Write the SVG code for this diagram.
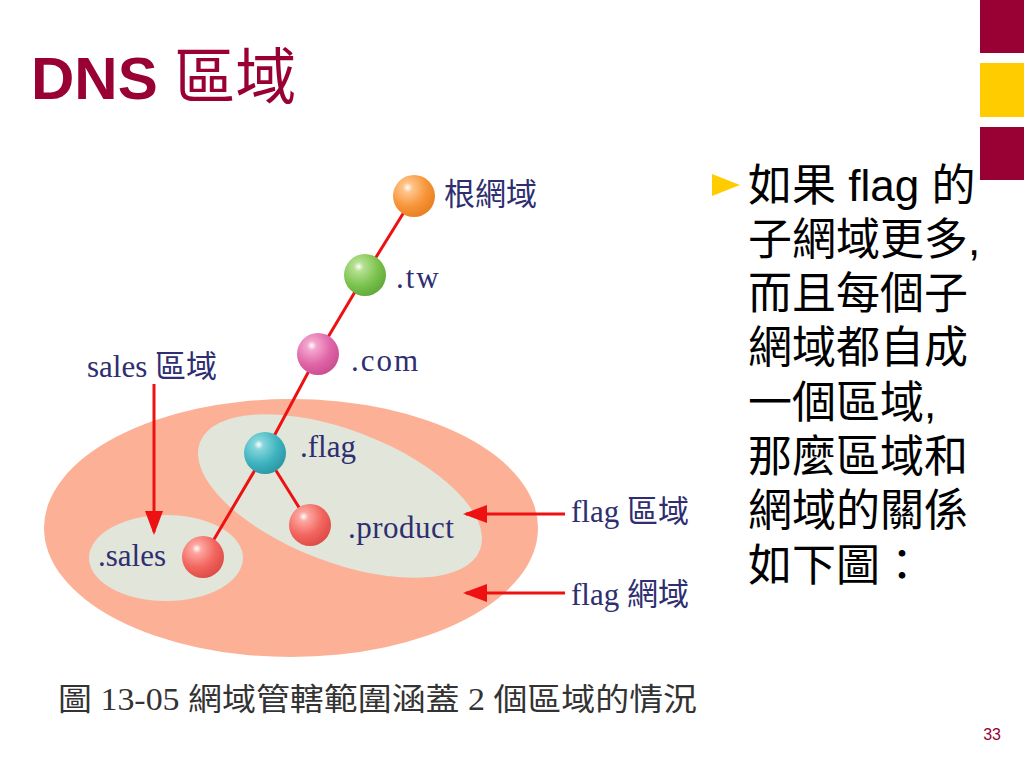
<svg xmlns="http://www.w3.org/2000/svg" width="1024" height="768" viewBox="0 0 1024 768">
<style>
.lbl{font-family:"Liberation Serif","Noto Sans CJK TC",serif;fill:#2e2e70;font-size:31px}
.cap{font-family:"Liberation Serif","Noto Sans CJK TC",serif;fill:#333;font-size:31px}
.body{font-family:"Liberation Sans","Noto Sans CJK TC",sans-serif;fill:#000;font-size:44px}
.edge{stroke:#ee1111;stroke-width:3;fill:none}
.arr{stroke:#ee1111;stroke-width:3;fill:none;marker-end:url(#ah)}
</style>
<defs>
<marker id="ah" markerWidth="8" markerHeight="6" refX="7" refY="3" orient="auto" markerUnits="strokeWidth">
<path d="M0,0 L8,3 L0,6 z" fill="#ee1111"/>
</marker>
<radialGradient id="gO" cx="0.35" cy="0.3" r="0.75"><stop offset="0" stop-color="#fff"/><stop offset="0.15" stop-color="#ffc58a"/><stop offset="0.6" stop-color="#f7953a"/><stop offset="1" stop-color="#e87e20"/></radialGradient>
<radialGradient id="gG" cx="0.35" cy="0.3" r="0.75"><stop offset="0" stop-color="#fff"/><stop offset="0.15" stop-color="#b6e092"/><stop offset="0.6" stop-color="#7cc44e"/><stop offset="1" stop-color="#5fa83a"/></radialGradient>
<radialGradient id="gP" cx="0.35" cy="0.3" r="0.75"><stop offset="0" stop-color="#fff"/><stop offset="0.15" stop-color="#f3a6cf"/><stop offset="0.6" stop-color="#e066a8"/><stop offset="1" stop-color="#c94d90"/></radialGradient>
<radialGradient id="gT" cx="0.35" cy="0.3" r="0.75"><stop offset="0" stop-color="#fff"/><stop offset="0.15" stop-color="#86d6dc"/><stop offset="0.6" stop-color="#3fb4c0"/><stop offset="1" stop-color="#2a96a2"/></radialGradient>
<radialGradient id="gR" cx="0.35" cy="0.3" r="0.75"><stop offset="0" stop-color="#fff"/><stop offset="0.15" stop-color="#fca7a0"/><stop offset="0.6" stop-color="#f2655e"/><stop offset="1" stop-color="#dc4a45"/></radialGradient>
</defs>
<rect width="1024" height="768" fill="#fff"/>
<g id="bars">
<rect x="980" y="0" width="44" height="53" fill="#990033"/>
<rect x="980" y="63" width="44" height="54" fill="#ffcc00"/>
<rect x="980" y="127" width="44" height="53" fill="#990033"/>
</g>
<text x="31" y="99" font-family="Liberation Sans,Noto Sans CJK TC,sans-serif" font-size="60" fill="#990033"><tspan font-weight="bold">DNS </tspan><tspan font-size="61">區域</tspan></text>
<g id="regions">
<ellipse cx="291" cy="528" rx="247" ry="129" fill="#fcb197"/>
<ellipse cx="340" cy="496" rx="150" ry="66" transform="rotate(21 340 496)" fill="#e1e5da"/>
<ellipse cx="166" cy="558" rx="77" ry="43" fill="#e1e5da"/>
</g>
<g id="connectors">
<polyline class="edge" points="414,196 365,275 318,354 265,453 203,558"/>
<line class="edge" x1="265" y1="453" x2="310" y2="525"/>
<line class="arr" x1="154" y1="384" x2="154" y2="532"/>
<line class="arr" x1="565" y1="514" x2="466" y2="514"/>
<line class="arr" x1="565" y1="593" x2="466" y2="593"/>
</g>
<g id="node-root"><circle cx="414" cy="196" r="21" fill="url(#gO)"/><text class="lbl" x="444" y="205">根網域</text></g>
<g id="node-tw"><circle cx="365" cy="275" r="21" fill="url(#gG)"/><text class="lbl" x="396" y="288" letter-spacing="2">.tw</text></g>
<g id="node-com"><circle cx="318" cy="354" r="21" fill="url(#gP)"/><text class="lbl" x="351" y="371" letter-spacing="2">.com</text></g>
<g id="node-flag"><circle cx="265" cy="453" r="21" fill="url(#gT)"/><text class="lbl" x="300" y="457">.flag</text></g>
<g id="node-product"><circle cx="310" cy="525" r="21" fill="url(#gR)"/><text class="lbl" x="348" y="538" letter-spacing="0.5">.product</text></g>
<g id="node-sales"><circle cx="203" cy="557" r="21" fill="url(#gR)"/><text class="lbl" x="98" y="566">.sales</text></g>
<g id="labels">
<text class="lbl" x="87" y="377">sales 區域</text>
<text class="lbl" x="571" y="522">flag 區域</text>
<text class="lbl" x="571" y="605">flag 網域</text>
<text class="cap" x="58" y="710" textLength="639" lengthAdjust="spacingAndGlyphs">圖 13-05 網域管轄範圍涵蓋 2 個區域的情況</text>
</g>
<g id="bullet-text">
<path d="M712,174 L740,185 L712,196 z" fill="#ffcc00"/>
<text class="body" x="748" y="201">如果 flag 的</text>
<text class="body" x="748" y="255">子網域更多,</text>
<text class="body" x="748" y="309">而且每個子</text>
<text class="body" x="748" y="363">網域都自成</text>
<text class="body" x="748" y="418">一個區域,</text>
<text class="body" x="748" y="472">那麼區域和</text>
<text class="body" x="748" y="526">網域的關係</text>
<text class="body" x="748" y="581">如下圖：</text>
</g>
<text x="1001" y="740" text-anchor="end" font-family="Liberation Sans,sans-serif" font-size="16" fill="#990033">33</text>
</svg>
